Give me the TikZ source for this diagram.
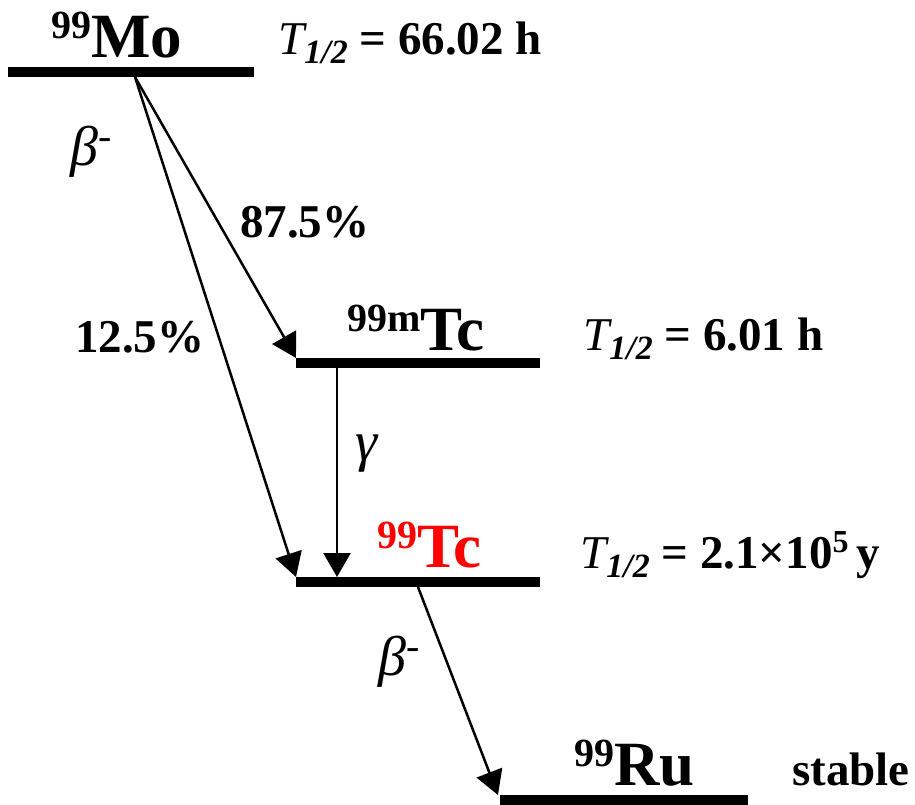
\documentclass[tikz,border=0pt]{standalone}
\usepackage{fontspec}
\setmainfont{Liberation Serif}
\usetikzlibrary{arrows.meta}
\newcommand\nuclide[2]{{\fontsize{40}{40}\selectfont\raisebox{19pt}{#1}}#2}
\newcommand\halflife{{\mdseries\itshape T}{\fontsize{34}{34}\selectfont\raisebox{-9pt}{\bfseries\itshape 1/2}}}
\begin{document}
\begin{tikzpicture}[x=1pt,y=-1pt,
  level/.style={line width=10pt},
  decay/.style={line width=2.5pt,-{Triangle[length=24pt,width=27pt]}},
  lab/.style={inner sep=0pt,anchor=base west,font=\fontsize{47}{50}\selectfont\bfseries},
  sym/.style={inner sep=0pt,anchor=base west,font=\fontsize{63}{63}\selectfont\bfseries},
  greek/.style={inner sep=0pt,anchor=base west,font=\fontsize{56}{56}\selectfont\itshape}]
\useasboundingbox (0,0) rectangle (915,805);
% levels
\coordinate (moL) at (8,72);   \coordinate (moR) at (254,72);
\coordinate (mtcL) at (296,363); \coordinate (mtcR) at (540,363);
\coordinate (tcL) at (296,582);  \coordinate (tcR) at (540,582);
\coordinate (ruL) at (500,800);  \coordinate (ruR) at (748,800);
\draw[level] (moL) -- (moR);
\draw[level] (mtcL) -- (mtcR);
\draw[level] (tcL) -- (tcR);
\draw[level] (ruL) -- (ruR);
% decay end points
\coordinate (moA) at (135,77);
\coordinate (mtcTip) at (296,358);
\coordinate (tcTip) at (296,577);
\coordinate (mtcG) at (337,368);
\coordinate (tcG) at (337,577);
\coordinate (tcB) at (418,587);
\coordinate (ruTip) at (498,795);
\draw[decay] (moA) -- (mtcTip);
\draw[decay] (moA) -- (tcTip);
\draw[decay] (mtcG) -- (tcG);
\draw[decay] (tcB) -- (ruTip);
% nuclide names
\node[sym] (mo) at (51,58) {\nuclide{99}{Mo}};
\node[sym] (mtc) at (347,350) {\nuclide{99m}{Tc}};
\node[sym,text=red] (tc) at (377,567) {\nuclide{99}{Tc}};
\node[sym] (ru) at (574,785) {\nuclide{99}{Ru}};
% half-lives
\node[lab] (hmo) at (278,55) {\halflife\ = 66.02 h};
\node[lab] (hmtc) at (583,350) {\halflife\ = 6.01 h};
\node[lab] (htc) at (580,568) {\halflife\ = 2.1\texttimes10\raisebox{16pt}{\fontsize{32}{32}\selectfont 5}\,y};
\node[lab] (stable) at (792,785) {stable};
% branching
\node[lab] (b1) at (240,237) {87.5\%};
\node[lab] (b2) at (75,352) {12.5\%};
% radiation labels
\node[greek] (beta1) at (70,166) {β\raisebox{16pt}{\fontsize{40}{40}\selectfont -}};
\node[greek] (gam) at (355,460) {γ};
\node[greek] (beta2) at (378,675) {β\raisebox{16pt}{\fontsize{40}{40}\selectfont -}};
\end{tikzpicture}
\end{document}
